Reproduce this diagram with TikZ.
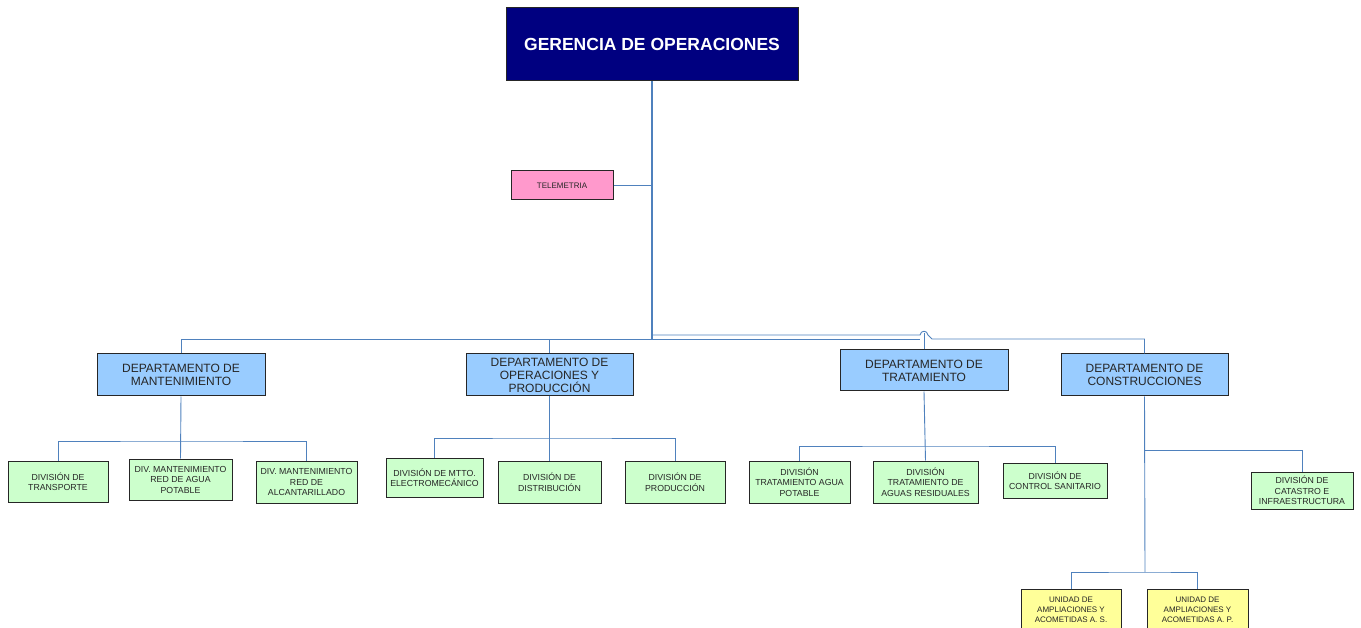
\documentclass[tikz,border=0pt]{standalone}
\usepackage{fontspec}
\setmainfont{Liberation Sans}
\definecolor{navybox}{RGB}{0,0,128}
\definecolor{pinkbox}{RGB}{255,153,204}
\definecolor{deptblue}{RGB}{153,204,255}
\definecolor{divgreen}{RGB}{204,255,204}
\definecolor{unityellow}{RGB}{255,255,153}
\definecolor{linkblue}{RGB}{79,129,189}
\begin{document}
\begin{tikzpicture}[x=1pt,y=-1pt,
  box/.style={draw=black!85, line width=1pt, inner sep=1pt, align=center, text=black!85},
  gerbox/.style={box, fill=navybox, text=white, font=\fontsize{17.5}{20}\selectfont\bfseries},
  telbox/.style={box, fill=pinkbox, font=\fontsize{8}{9}\selectfont},
  dept/.style={box, fill=deptblue, font=\fontsize{12}{13}\selectfont},
  divn/.style={box, fill=divgreen, font=\fontsize{8.75}{10.5}\selectfont},
  unit/.style={box, fill=unityellow, font=\fontsize{8}{10}\selectfont},
  link/.style={draw=linkblue, line width=0.9pt},
  sz/.style 2 args={minimum width=#1, minimum height=#2}]
\useasboundingbox (0,0) rectangle (1361,628);

% boxes
\node[gerbox, sz={292pt}{73pt}] (ger) at (652,44.5) {GERENCIA DE OPERACIONES};
\node[telbox, sz={102pt}{29pt}] (tel) at (562,185.5) {TELEMETRIA};

\node[dept, sz={168pt}{42pt}] (mant) at (181,375) {DEPARTAMENTO DE\\MANTENIMIENTO};
\node[dept, sz={167pt}{42pt}] (oper) at (549.5,375) {DEPARTAMENTO DE\\OPERACIONES Y\\PRODUCCIÓN};
\node[dept, sz={168pt}{41pt}] (trat) at (924,370.5) {DEPARTAMENTO DE\\TRATAMIENTO};
\node[dept, sz={167pt}{42pt}] (cons) at (1144.5,375) {DEPARTAMENTO DE\\CONSTRUCCIONES};

\node[divn, sz={100pt}{41pt}] (transp) at (58,481.5) {DIVISIÓN DE\\TRANSPORTE};
\node[divn, sz={103pt}{41pt}] (agua) at (180.5,479.5) {DIV. MANTENIMIENTO\\RED DE AGUA\\POTABLE};
\node[divn, sz={101pt}{42pt}] (alcant) at (306.5,482) {DIV. MANTENIMIENTO\\RED DE\\ALCANTARILLADO};
\node[divn, sz={97pt}{39pt}] (electro) at (434.5,477.5) {DIVISIÓN DE MTTO.\\ELECTROMECÁNICO};
\node[divn, sz={103pt}{42pt}] (distr) at (549.5,482) {DIVISIÓN DE\\DISTRIBUCIÓN};
\node[divn, sz={100pt}{42pt}] (prod) at (675,482) {DIVISIÓN DE\\PRODUCCIÓN};
\node[divn, sz={101pt}{42pt}] (tratap) at (799.5,482) {DIVISIÓN\\TRATAMIENTO AGUA\\POTABLE};
\node[divn, sz={105pt}{42pt}] (tratar) at (925.5,482) {DIVISIÓN\\TRATAMIENTO DE\\AGUAS RESIDUALES};
\node[divn, sz={104pt}{35pt}] (ctrl) at (1055,480.5) {DIVISIÓN DE\\CONTROL SANITARIO};
\node[divn, sz={102pt}{37pt}] (catastro) at (1302,490.5) {DIVISIÓN DE\\CATASTRO E\\INFRAESTRUCTURA};

\node[unit, sz={100pt}{42pt}] (uas) at (1071,610) {UNIDAD DE\\AMPLIACIONES Y\\ACOMETIDAS A. S.};
\node[unit, sz={101pt}{42pt}] (uap) at (1197.5,610) {UNIDAD DE\\AMPLIACIONES Y\\ACOMETIDAS A. P.};

% junction coordinates
\coordinate (busL) at (652,339);
\coordinate (busU) at (652,335);
\coordinate (hopA) at (920,335);
\coordinate (hopB) at (928,335);
\coordinate (consJ) at (1145,450);
\coordinate (consB) at (1145,572);

% top level connectors
\draw[link, line width=1.1pt] (ger.south) -- (busL);
\draw[link] (tel.east) -- (tel.east -| ger.south);
\draw[link] (mant.north) |- (busL);
\draw[link] (oper.north) -- (oper.north |- busL);
\draw[link] (busU) -- (hopA) .. controls (921,330) and (927,330) .. (hopB) -- (932,339) -- (cons.north |- busL) -- (cons.north);
\draw[link] (busL) -- (920,339);
\draw[link] (trat.north) -- (trat.north |- 0,333);

% mantenimiento
\draw[link] (mant.south) -- (agua.north);
\draw[link] (transp.north) |- (mant.south |- 0,441) -| (alcant.north);
% operaciones
\draw[link] (oper.south) -- (distr.north);
\draw[link] (electro.north) |- (oper.south |- 0,438) -| (prod.north);
% tratamiento
\draw[link] (trat.south) -- (tratar.north);
\draw[link] (tratap.north) |- (trat.south |- 0,446) -| (ctrl.north);
% construcciones
\draw[link] (cons.south) -- (consB);
\draw[link] (consJ) -| (catastro.north);
\draw[link] (uas.north) |- (consB) -| (uap.north);
\end{tikzpicture}
\end{document}
